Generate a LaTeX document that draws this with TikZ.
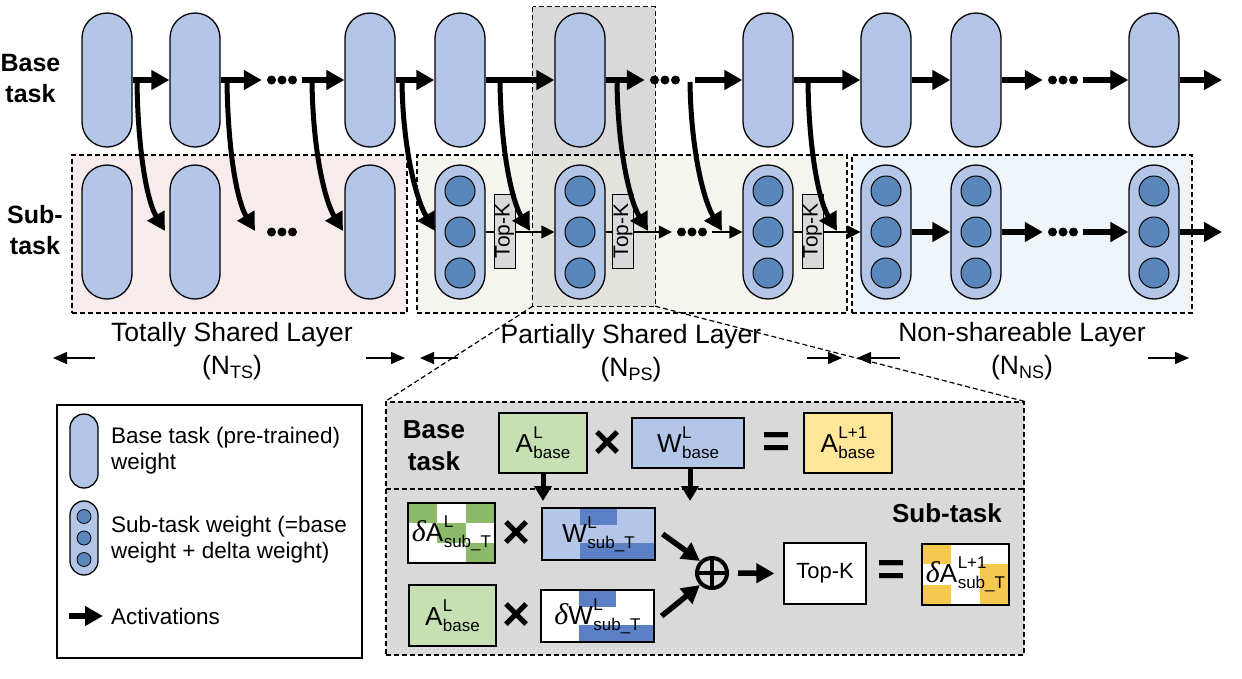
\documentclass[tikz,border=0pt]{standalone}
\usepackage{fontspec}
\setmainfont{Liberation Sans}
\newfontfamily\dfont{Liberation Serif}
\usetikzlibrary{arrows.meta,calc}
\definecolor{pillc}{HTML}{B4C6E7}
\definecolor{circc}{HTML}{5A87BB}
\definecolor{tsc}{HTML}{F7ECEB}
\definecolor{psc}{HTML}{EBEDDF}
\definecolor{nsc}{HTML}{EEF4F8}
\definecolor{grayc}{HTML}{D9D9D9}
\definecolor{gl}{HTML}{C6E0B4}
\definecolor{gd}{HTML}{8DB96B}
\definecolor{bd}{HTML}{5B80C6}
\definecolor{yl}{HTML}{FFE699}
\definecolor{yd}{HTML}{F5C84F}
\newcommand{\fs}[2]{\fontsize{#1}{#2}\selectfont}
\newcommand{\supsubs}[3]{#1\kern0.5pt\rlap{\raisebox{14pt}{\fs{17}{17}#2}}\raisebox{-6pt}{\fs{17}{17}#3}}
\newcommand{\dlt}{{\dfont\itshape\fs{30}{30}δ}}
\tikzset{
 pill/.style={draw, line width=1.3pt, fill=pillc, rounded corners=25pt, minimum width=50pt, minimum height=134pt, inner sep=0pt},
 subpill/.style={pill, path picture={\foreach \dy in {-41,0,41}{\filldraw[fill=circc, draw=black, line width=1pt] ([yshift=\dy pt]path picture bounding box.center) circle[radius=15pt];}}},
 lpill/.style={draw, line width=1.3pt, fill=pillc, rounded corners=14pt, minimum width=28pt, minimum height=74pt, inner sep=0pt},
 lsub/.style={lpill, path picture={\foreach \dy in {-21.5,0,21.5}{\filldraw[fill=circc, draw=black, line width=0.8pt] ([yshift=\dy pt]path picture bounding box.center) circle[radius=7pt];}}},
 dots/.style={minimum width=40pt, minimum height=10pt, inner sep=0pt, path picture={\foreach \dx in {-10.5,0,10.5}{\fill ([xshift=\dx pt]path picture bounding box.center) circle[radius=4.5pt];}}},
 topk/.style={draw, line width=1pt, fill=grayc, rotate=90, minimum width=74pt, minimum height=21pt, inner sep=0pt, font=\fs{21}{21}},
 box/.style={draw, line width=1.3pt, inner sep=0pt, font=\fs{26}{26}},
 cells/.style 2 args={path picture={\foreach \ci/\cj in {#2}{\fill[#1] let \p1=(path picture bounding box.north west), \p2=(path picture bounding box.south east) in ({\x1+\ci*(\x2-\x1)/3},{\y1+\cj*(\y2-\y1)/3}) rectangle ({\x1+(\ci+1)*(\x2-\x1)/3},{\y1+(\cj+1)*(\y2-\y1)/3});}}},
 thk/.style={line width=5.5pt, -{Triangle[length=18pt,width=19pt]}},
 thn/.style={line width=1.4pt, -{Triangle[length=13pt,width=13pt]}},
 lblarr/.style={line width=1.4pt, -{Triangle[length=14pt,width=12pt]}},
 region/.style={draw, line width=1.2pt, dash pattern=on 5pt off 3pt},
 lbltxt/.style={font=\fs{26.5}{33}, align=center, inner sep=0pt},
 boldlbl/.style={font=\fs{25}{31}\bfseries, align=center, inner sep=0pt},
 op/.style={font=\fs{48}{48}\bfseries, inner sep=0pt},
 legtxt/.style={font=\fs{22.5}{26}, align=left, inner sep=0pt, anchor=west},
}
\begin{document}
\begin{tikzpicture}[x=1pt,y=-1pt]
\useasboundingbox (0,0) rectangle (1242,678);
\fill[white] (0,0) rectangle (1242,678);
% highlight column and regions
\node[fill=grayc, minimum width=122pt, minimum height=299pt, inner sep=0pt] (gcol) at (594,156.5) {};
\node[region, fill=tsc, minimum width=335pt, minimum height=158pt, inner sep=0pt] (ts) at (239.5,234) {};
\node[region, fill=psc, fill opacity=0.5, minimum width=430pt, minimum height=158pt, inner sep=0pt] (ps) at (632,234) {};
\node[region, fill=nsc, minimum width=340pt, minimum height=158pt, inner sep=0pt] (ns) at (1022,234) {};
\draw[region] (gcol.north west) rectangle (gcol.south east);
% row labels
\node[boldlbl] (lb) at (30.5,79) {Base\\task};
\node[boldlbl] (ls) at (35,230) {Sub-\\task};
% pills
\foreach \n/\x in {1/107,2/195,3/370,4/460,5/580,6/768,7/886,8/976,9/1154}{\node[pill] (b\n) at (\x,80) {};}
\foreach \n/\x in {1/107,2/195,3/370}{\node[pill] (s\n) at (\x,232) {};}
\foreach \n/\x in {4/460,5/580,6/768,7/886,8/976,9/1154}{\node[subpill] (s\n) at (\x,232) {};}
% dots
\node[dots] (d1) at (282,80) {};
\node[dots] (d2) at (665,80) {};
\node[dots] (d3) at (1063,80) {};
\node[dots] (ds1) at (282,232) {};
\node[dots] (ds2) at (692,232) {};
\node[dots] (ds3) at (1063,232) {};
\coordinate (e1) at (1222,80);
\coordinate (e2) at (1222,232);
% base row arrows
\draw[thk] (b1) -- (b2);
\draw[thk] (b2) -- (d1);
\draw[thk] (d1) -- (b3);
\draw[thk] (b3) -- (b4);
\draw[thk] (b4) -- (b5);
\draw[thk] (b5) -- (d2);
\draw[thk, shorten <=10pt] (d2) -- (b6);
\draw[thk] (b6) -- (b7);
\draw[thk] (b7) -- (b8);
\draw[thk] (b8) -- (d3);
\draw[thk] (d3) -- (b9);
\draw[thk] (b9) -- (e1);
% sub row arrows
\draw[thn] (s4) -- (s5);
\draw[thn] (s5) -- (ds2);
\draw[thn] (ds2) -- (s6);
\draw[thn] (s6) -- (s7);
\draw[thk] (s7) -- (s8);
\draw[thk] (s8) -- (ds3);
\draw[thk] (ds3) -- (s9);
\draw[thk] (s9) -- (e2);
% top-k boxes
\node[topk] (tk1) at (504.5,231) {Top-K};
\node[topk] (tk2) at (623,231) {Top-K};
\node[topk] (tk3) at (812.5,231) {Top-K};
% curved arrows
\foreach \i/\cx/\tx in {1/137/165,2/227/255,3/312/343,4/402/435,5/500/530,6/617/648,7/690/722,8/808/837}{
  \coordinate (c\i) at (\cx,82);
  \coordinate (t\i) at (\tx,231);
  \draw[thk, line width=5pt] (c\i) .. controls ($(c\i)+(1,70)$) and ($(t\i)+(-18,-30)$) .. (t\i);
}
% layer labels
\node[lbltxt] (lts) at (232,351) {Totally Shared Layer\\(N\raisebox{-4pt}{\fs{18}{18}TS})};
\node[lbltxt] (lps) at (631,353) {Partially Shared Layer\\(N\raisebox{-4pt}{\fs{18}{18}PS})};
\node[lbltxt] (lns) at (1022,351) {Non-shareable Layer\\(N\raisebox{-4pt}{\fs{18}{18}NS})};
\foreach \a/\b/\n in {95/53/1,366/405/2,458/420/3,807/842/4,900/857/5,1148/1189/6}{
  \coordinate (la\n) at (\a,358);
  \coordinate (lb\n) at (\b,358);
  \draw[lblarr] (la\n) -- (lb\n);
}
% detail box
\node[region, fill=grayc, minimum width=638pt, minimum height=253pt, inner sep=0pt] (det) at (705,528.5) {};
\draw[region] (gcol.south west) -- (det.north west);
\draw[region] (gcol.south east) -- (det.north east);
\coordinate (dl) at (386,489);
\coordinate (dr) at (1024,489);
\draw[region] (dl) -- (dr);
\node[boldlbl, font=\fs{26}{32}\bfseries] (bt) at (434,446) {Base\\task};
\node[boldlbl, font=\fs{26}{32}\bfseries] (stl) at (947,513) {Sub-task};
\node[box, fill=gl, minimum width=88pt, minimum height=60pt] (ab) at (543,443) {\supsubs{A}{L}{base}};
\node[op] (x1) at (608,444) {×};
\node[box, fill=pillc, minimum width=112pt, minimum height=50pt] (wb) at (688,443) {\supsubs{W}{L}{base}};
\node[op] (q1) at (777,445) {=};
\node[box, fill=yl, minimum width=88pt, minimum height=60pt] (ab1) at (848,443) {\supsubs{A}{L+1}{base}};
\coordinate (ae) at (543,501);
\coordinate (we) at (690,501);
\draw[thk, line width=5pt, -{Triangle[length=15pt,width=17pt]}] (ab.south) -- (ae);
\draw[thk, line width=5pt, -{Triangle[length=15pt,width=17pt]}] ([xshift=2pt]wb.south) -- (we);
\node[box, fill=white, cells={gd}{0/0,2/0,1/1,2/2}, minimum width=87pt, minimum height=60pt] (da) at (451.5,533) {\dlt\supsubs{A}{L}{sub\_T}};
\node[op] (x2) at (517,534) {×};
\node[box, fill=pillc, cells={bd}{1/0,1/2,2/2}, minimum width=113pt, minimum height=52pt] (ws) at (598.5,534) {\supsubs{W}{L}{sub\_T}};
\node[box, fill=gl, minimum width=87pt, minimum height=61pt] (ab2) at (452.5,615.5) {\supsubs{A}{L}{base}};
\node[op] (x3) at (517,616) {×};
\node[box, fill=white, cells={bd}{1/0,1/2,2/2}, minimum width=113pt, minimum height=52pt] (dw) at (597.5,616) {\dlt\supsubs{W}{L}{sub\_T}};
\node[circle, draw, line width=4pt, minimum size=30pt, inner sep=0pt] (plus) at (712,573) {};
\draw[line width=4pt] (plus.north) -- (plus.south) (plus.west) -- (plus.east);
\draw[thk] ([xshift=7pt]ws.east) -- (plus.north west);
\draw[thk] ([xshift=7pt]dw.east) -- (plus.south west);
\node[box, fill=white, font=\fs{22}{22}, minimum width=82pt, minimum height=61pt] (tkd) at (825,573.5) {Top-K};
\draw[thk, shorten <=9pt, shorten >=9pt] (plus.east) -- (tkd.west);
\node[op] (q2) at (892,573) {=};
\node[box, fill=white, cells={yd}{0/0,2/1,0/2,2/2}, minimum width=87pt, minimum height=61pt] (da1) at (965.5,574.5) {\dlt\supsubs{A}{L+1}{sub\_T}};
% legend
\node[draw, line width=1.2pt, minimum width=305pt, minimum height=253pt, inner sep=0pt] (leg) at (209.5,531.5) {};
\node[lpill] (lp1) at (84,451) {};
\node[legtxt] (lt1) at (111,451) {Base task (pre-trained)\\weight};
\node[lsub] (lp2) at (84,538) {};
\node[legtxt] (lt2) at (111,540) {Sub-task weight (=base\\weight + delta weight)};
\coordinate (lga) at (69,616);
\coordinate (lgb) at (103,616);
\draw[thk] (lga) -- (lgb);
\node[legtxt] (lt3) at (111,616) {Activations};
\end{tikzpicture}
\end{document}
